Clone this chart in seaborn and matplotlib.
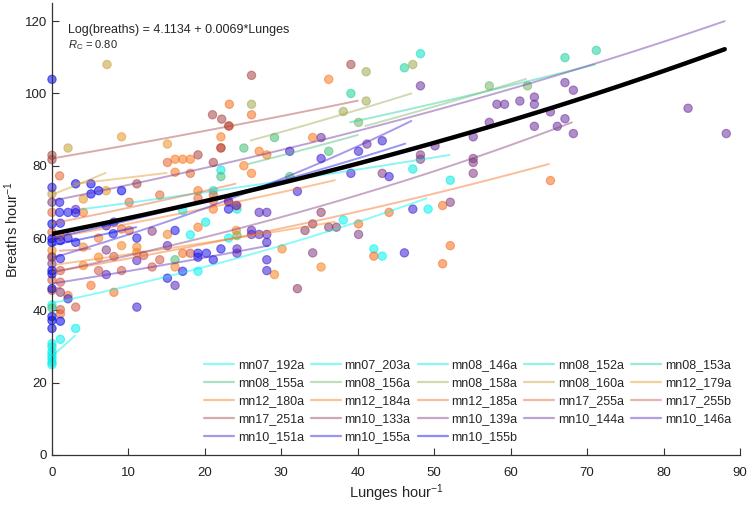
import numpy as np
import pandas as pd
import matplotlib
matplotlib.use('Agg')
import matplotlib.pyplot as plt
import seaborn as sns
from matplotlib.lines import Line2D

# whale ids in legend order
whales = ['mn07_192a', 'mn07_203a', 'mn08_146a', 'mn08_152a', 'mn08_153a',
          'mn08_155a', 'mn08_156a', 'mn08_158a', 'mn08_160a', 'mn12_179a',
          'mn12_180a', 'mn12_184a', 'mn12_185a', 'mn17_255a', 'mn17_255b',
          'mn17_251a', 'mn10_133a', 'mn10_139a', 'mn10_144a', 'mn10_146a',
          'mn10_151a', 'mn10_155a', 'mn10_155b']

colors = ['#00f5f0', '#00f0eb', '#00ebe1', '#0ae1c8', '#1ed2a0',
          '#46be78', '#78b46e', '#a0aa50', '#c8a03c', '#e69628',
          '#f5821e', '#fa781e', '#f56e1e', '#e66432', '#d25a46',
          '#aa4646', '#8c3c64', '#823c82', '#6e32a0', '#5a28be',
          '#3c1ed2', '#1e14e6', '#0000f0']

# (lunges per hour, breaths per hour)
mn07_192a = [(0, 41.5), (19.1, 50.8), (38.1, 65), (42.1, 57), (43.2, 55), (49.2, 68), (23.1, 60), (18.1, 60.9)]
mn07_203a = [(0, 30.8), (0, 29.9), (0, 28.5), (0, 27.6), (0, 26.7), (0, 25.7), (0, 25), (1.1, 32), (3.1, 35)]
mn08_146a = [(17.1, 67.6), (20.1, 64.4), (21.1, 73.1), (22.1, 78.8), (24.2, 68), (47.2, 79.1), (52.1, 76)]
mn08_152a = [(48.2, 111)]
mn08_153a = [(39.1, 100), (46.1, 107.1), (67.1, 109.9), (71.2, 111.9)]
mn08_155a = [(25.1, 84.9), (29.1, 87.8), (36.2, 84), (31.1, 77), (22.1, 77), (24.2, 60.7), (16.1, 54), (0, 40.7)]
mn08_156a = [(40.1, 92), (57.2, 102.1), (62.2, 102.1)]
mn08_158a = [(26.1, 97), (41.1, 106), (41.1, 97.9), (38.1, 95), (47.2, 108)]
mn08_160a = [(7.2, 108), (2.1, 84.9), (0, 72.2)]
mn12_179a = [(9.1, 88), (15.1, 86), (4.1, 70.8), (7.1, 73.1)]
mn12_180a = [(0, 54.9), (0, 56.6), (4.1, 57.5), (6.1, 54.7), (9.1, 57.9), (11.1, 57.5), (11.1, 56), (15.1, 61),
             (16.1, 52), (24.1, 62.1), (30.1, 57), (35.2, 52), (29.1, 49.9), (4.1, 52.4)]
mn12_184a = [(1.1, 60.4), (6.1, 60), (4.1, 67.1), (16.1, 81.8), (17.1, 81.8), (18.1, 81.8), (16.1, 78.2),
             (19.1, 73.1), (22.1, 88), (25.1, 80), (26.1, 77.9), (27.1, 84), (28.1, 83), (34.1, 87.8),
             (36.2, 103.9), (19.1, 63), (21.1, 68)]
mn12_185a = [(2.1, 44.1), (5.1, 46.9), (8.1, 45), (22.1, 85), (23.2, 97), (26.1, 94.1), (23.2, 91), (42.1, 55),
             (44.1, 67.1), (40.1, 63.9), (51.1, 69), (52.1, 57.9), (51.1, 52.9), (65.2, 75.9), (17.1, 55.8),
             (1.1, 39)]
mn17_255a = [(1, 77.2), (10.1, 69.9), (14.1, 71.9), (19.1, 71), (21.1, 71.9), (21.1, 70.3), (23.1, 69.9),
             (24.2, 69), (15.1, 80.9), (18.1, 77.9), (9.1, 62.5), (10.1, 62.1), (0, 67.1), (0, 61.6)]
mn17_255b = [(0, 48.4), (0, 45.5), (1.1, 40.2), (3.1, 40.9), (8.1, 54.9), (6.1, 51), (9.1, 51), (12, 55.2),
             (13.1, 52), (14.1, 54), (18.1, 55.8), (1.1, 51), (1.1, 47.8)]
mn17_251a = [(0, 82.9), (0, 81.7), (21, 94.1), (22.2, 92.9), (23.1, 91), (26.1, 105), (39.1, 108), (19.1, 83),
             (21.1, 80.9), (22.1, 84.9), (11.1, 75)]
mn10_133a = [(1.1, 45), (32.1, 46), (35.2, 67.1), (33.1, 62.1), (36.2, 63), (37.2, 63), (34.1, 63.9)]
mn10_139a = [(55.1, 82), (55.1, 80.9), (55.1, 77.9), (48.2, 83), (48.2, 81.8), (43.2, 77.9), (34.1, 55.9),
             (40.1, 61), (52.1, 69.9), (0, 69.9), (7.1, 56.7), (13.1, 61.9), (0, 54.7), (0, 52.9)]
mn10_144a = [(67.1, 103), (68.2, 100.9), (58.2, 97), (59.2, 97), (61.2, 97.9), (63.1, 99), (63.1, 97),
             (65.2, 94.9), (57.2, 92), (63.1, 90.9), (66.1, 90.9), (67.1, 93), (68.2, 88.9), (55.1, 88),
             (83.2, 95.9), (88.2, 88.9), (48.2, 102.1), (50.1, 85.5), (41.2, 86), (35.2, 87.8)]
mn10_146a = [(26.1, 62.1), (26.1, 61), (27.1, 61), (28.1, 61), (27.1, 67.1), (28.1, 67.1), (15.1, 57.9),
             (24.2, 57), (24.2, 55.8), (7.1, 49.9), (11.1, 53.8), (16.1, 46.9), (23.1, 70.2), (24.1, 69),
             (3.1, 67.9)]
mn10_151a = [(31.1, 84), (35.2, 82), (40.1, 84), (43.2, 86.9), (39.1, 77.9), (44.1, 77), (32.1, 72.9),
             (47.2, 68), (46.1, 55.9), (28.1, 58.8), (28.1, 54), (28.1, 51), (11.1, 40.9), (2.1, 43.2)]
mn10_155a = [(0, 74), (1, 69.9), (1, 67.1), (2.1, 67.1), (3.1, 67), (1.1, 64.1), (2.1, 60), (3.1, 58.8),
             (7.1, 63.4), (8.1, 64.4), (11.1, 60), (8, 61.2), (16.1, 62.1), (19.1, 55.8), (19.1, 54.7),
             (20.2, 55.8), (22.1, 57), (21.1, 54), (17.1, 50.8), (15.1, 48.9), (23.1, 68), (1.1, 54.3)]
mn10_155b = [(0, 103.9), (3.1, 75), (5.1, 75), (5.1, 72.2), (6.1, 73.1), (9.1, 73.1), (0, 63.9), (0, 59.8),
             (0, 58.8), (0, 51), (0, 50.1), (0, 46), (0, 38.3), (0, 37.2), (0, 35), (1.1, 37), (1.1, 59.3)]

point_sets = [mn07_192a, mn07_203a, mn08_146a, mn08_152a, mn08_153a, mn08_155a, mn08_156a, mn08_158a,
              mn08_160a, mn12_179a, mn12_180a, mn12_184a, mn12_185a, mn17_255a, mn17_255b, mn17_251a,
              mn10_133a, mn10_139a, mn10_144a, mn10_146a, mn10_151a, mn10_155a, mn10_155b]

# per-whale fits: log(breaths) = a + b*lunges, drawn over lunge range
fit_a = [3.7377, 3.3142, 4.2029, 4.7095, 4.3264, 4.2179, 4.2501, 4.2935, 4.2767, 4.3077, 3.9608, 4.0943,
         3.9239, 4.1589, 4.0320, 4.4067, 3.8286, 3.9220, 4.2528, 3.8586, 3.9982, 4.0943, 4.0604]
fit_b = [0.01071, 0.0608, 0.00415, 0.0, 0.00501, 0.00663, 0.00636, 0.00663, 0.01143, 0.00327, 0.00556,
         0.00639, 0.00714, 0.00661, 0.0022, 0.004456, 0.005, 0.00882, 0.006076, 0.00707, 0.01123, 0.00782,
         0.00752]
fit_lo = [0, 0, 4, 48.2, 39, 25.7, 41, 26, 0, 3, 0, 0, 0, 0, 1, 0, 0, 0, 0, 0, 0, 0, 0]
fit_hi = [49, 3, 52, 48.2, 71, 40, 62, 47, 7, 15, 37, 37, 65, 24, 5, 40, 1.1, 68, 88, 28.3, 47, 46.2, 11]

# population model
pop_a, pop_b = 4.1134, 0.0069
pop_hi = 88

rows = []
for name, pts in zip(whales, point_sets):
    for lx, by in pts:
        rows.append((name, lx, by))
df = pd.DataFrame(rows, columns=['whale', 'lunges', 'breaths'])

curves = []
for name, a, b, lo, hi in zip(whales, fit_a, fit_b, fit_lo, fit_hi):
    if hi > lo:
        xs = np.linspace(lo, hi, 40)
        for xv in xs:
            curves.append((name, xv, np.exp(a + b * xv)))
curve_df = pd.DataFrame(curves, columns=['whale', 'lunges', 'breaths'])

sns.set_theme(style='ticks')
plt.rcParams['font.family'] = ['Liberation Sans', 'DejaVu Sans']
plt.rcParams['mathtext.fontset'] = 'custom'
plt.rcParams['mathtext.rm'] = 'Liberation Sans'
plt.rcParams['mathtext.it'] = 'Liberation Sans:italic'

pal = dict(zip(whales, colors))

fig = plt.figure(figsize=(7.5, 5.07), dpi=100)
ax = fig.add_axes([0.0693, 0.1026, 0.9174, 0.8914])

sns.scatterplot(data=df, x='lunges', y='breaths', hue='whale', palette=pal, s=36, alpha=0.55,
                edgecolor='face', linewidth=0.8, legend=False, ax=ax, clip_on=False, zorder=2)
sns.lineplot(data=curve_df, x='lunges', y='breaths', hue='whale', palette=pal, estimator=None,
             sort=False, linewidth=1.4, alpha=0.45, legend=False, ax=ax, zorder=3)

xp = np.linspace(0, pop_hi, 100)
ax.plot(xp, np.exp(pop_a + pop_b * xp), color='black', linewidth=3.2, zorder=4)

ax.text(2.1, 116.6, 'Log(breaths) = 4.1134 + 0.0069*Lunges', fontsize=9, va='baseline')
ax.text(2.1, 112.6, r'$R_\mathrm{C}$ = 0.80', fontsize=8, va='baseline')

ax.set_xlim(0, 90)
ax.set_ylim(0, 125)
ax.set_xticks(range(0, 91, 10))
ax.set_yticks(range(0, 121, 20))
ax.set_xlabel('Lunges hour$^{-1}$', fontsize=10.5, labelpad=2)
ax.set_ylabel('Breaths hour$^{-1}$', fontsize=10.5, labelpad=3)
ax.tick_params(direction='in', length=5, width=0.8, colors='#333333', labelsize=9.5, labelcolor='#222222')
ax.tick_params(axis='x', pad=9)
for side in ['top', 'right']:
    ax.spines[side].set_visible(False)
for side in ['left', 'bottom']:
    ax.spines[side].set_color('#333333')
    ax.spines[side].set_linewidth(0.9)

handles = [Line2D([0], [0], color=c, lw=1.6, alpha=0.45) for c in colors]
order = [r * 5 + c for c in range(5) for r in range(5) if r * 5 + c < len(whales)]
ax.legend([handles[i] for i in order], [whales[i] for i in order], ncol=5, frameon=False, fontsize=9,
          handlelength=2.4, handletextpad=0.3, columnspacing=0.55, labelspacing=0.48,
          loc='lower right', bbox_to_anchor=(0.975, 0.126), bbox_transform=fig.transFigure,
          borderpad=0, borderaxespad=0)

fig.savefig('out.png', dpi=100)
